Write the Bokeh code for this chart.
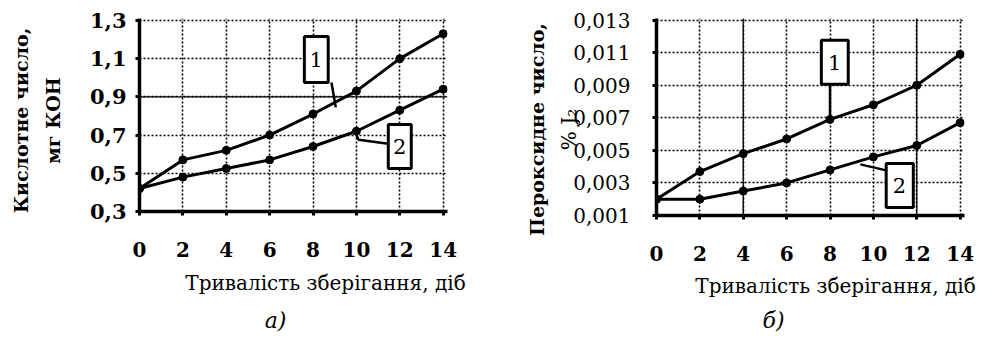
import math
from bokeh.plotting import figure
from bokeh.layouts import row
from bokeh.models import (Range1d, FixedTicker, Label, Span, BoxAnnotation,
                          CustomJSTickFormatter)
from bokeh.embed import file_html
from bokeh.resources import INLINE

# ---------------- data ----------------
days = [0, 2, 4, 6, 8, 10, 12, 14]
acid_1 = [0.42, 0.57, 0.62, 0.70, 0.81, 0.93, 1.10, 1.23]
acid_2 = [0.42, 0.48, 0.525, 0.57, 0.64, 0.72, 0.83, 0.94]
perox_1 = [0.0020, 0.0037, 0.0048, 0.0057, 0.0069, 0.0078, 0.0090, 0.0109]
perox_2 = [0.0020, 0.0020, 0.0025, 0.0030, 0.0038, 0.0046, 0.0053, 0.0067]
acid_ticks = [0.3, 0.5, 0.7, 0.9, 1.1, 1.3]
perox_ticks = [0.001, 0.003, 0.005, 0.007, 0.009, 0.011, 0.013]
x_title = "Тривалість зберігання, діб"
acid_title = ["Кислотне число,", "мг КОН"]
perox_title = ["Пероксидне число,", "% J₂"]
captions = ["а)", "б)"]

FONT = "DejaVu Serif"
R = math.pi / 2

# callouts (data coords): box (left, right, bottom, top), label pos, leader xs, ys
acid_callouts = [
    ("1", (7.6, 8.7, 0.975, 1.216), (8.15, 1.095), [8.85, 9.05], [0.975, 0.845]),
    ("2", (11.47, 12.53, 0.525, 0.755), (12.0, 0.64), [10.0, 10.1, 11.47], [0.70, 0.675, 0.655]),
]
perox_callouts = [
    ("1", (7.6, 8.84, 0.00906, 0.01177), (8.22, 0.01041), [8.0, 8.0], [0.0069, 0.00906]),
    ("2", (10.59, 11.84, 0.00149, 0.0042), (11.2, 0.00285), [9.4, 10.59], [0.00414, 0.00377]),
]

# text placement: (text, page x, page y, angle, size, style, side panel)
acid_texts = [
    (acid_title[1], 52, 120, R, "19px", "bold", "left"),
    (acid_title[0], 20, 120, R, "19px", "bold", "left"),
    (x_title, 325, 282, 0, "20px", "normal", "below"),
    (captions[0], 275, 320, 0, "22px", "italic", "below"),
]
perox_texts = [
    (perox_title[1], 568, 127, R, "20px", "normal", "left"),
    (perox_title[0], 536, 127, R, "19px", "bold", "left"),
    (x_title, 835, 283, 0, "20px", "normal", "below"),
    (captions[1], 773, 318, 0, "22px", "italic", "below"),
]

X0, X1 = 0, 14.2


def make(page_left, bl, br, frame_w, frame_h, bt, bb, yr, yticks, ylabels, ybold, ysize,
         ystandoff, s1, s2, solid_h, solid_v, callouts, texts):
    p = figure(frame_width=frame_w, frame_height=frame_h,
               min_border_left=bl, min_border_right=br, min_border_top=bt, min_border_bottom=bb,
               x_range=Range1d(X0, X1), y_range=Range1d(*yr),
               output_backend="svg", toolbar_location=None, tools="")
    p.outline_line_color = None
    p.background_fill_color = "white"
    p.border_fill_color = "white"

    p.xaxis.ticker = FixedTicker(ticks=days)
    p.yaxis.ticker = FixedTicker(ticks=yticks)
    p.yaxis.formatter = CustomJSTickFormatter(
        args=dict(labs=ylabels, tvals=yticks),
        code="""
        for (let i = 0; i < tvals.length; i++) {
            if (Math.abs(tvals[i] - tick) < 1e-9) return labs[i];
        }
        return '';
        """)
    for ax in (p.xaxis[0], p.yaxis[0]):
        ax.axis_line_width = 3.5
        ax.axis_line_color = "black"
        ax.major_tick_line_width = 3
        ax.major_tick_line_color = "black"
        ax.major_tick_out = 4
        ax.major_tick_in = 0
        ax.minor_tick_line_color = None
        ax.major_label_text_font = FONT
        ax.major_label_text_color = "black"
    p.xaxis.major_label_text_font_size = "20px"
    p.xaxis.major_label_standoff = 26
    p.xaxis.major_label_text_font_style = "bold"
    p.yaxis.major_label_text_font_size = ysize
    p.yaxis.major_label_standoff = ystandoff
    p.yaxis.major_label_text_font_style = "bold" if ybold else "normal"

    p.xgrid.ticker = FixedTicker(ticks=days[1:])
    p.ygrid.ticker = FixedTicker(ticks=yticks[1:])
    for g in (p.xgrid[0], p.ygrid[0]):
        g.grid_line_color = "black"
        g.grid_line_width = 1.6
        g.grid_line_dash = "2 2"
    for v in solid_h:
        p.add_layout(Span(location=v, dimension="width", line_color="black", line_width=1.3,
                          level="underlay"))
    for v in solid_v:
        p.add_layout(Span(location=v, dimension="height", line_color="black", line_width=1.3,
                          level="underlay"))

    for s in (s1, s2):
        p.line(days, s, line_color="black", line_width=3)
        p.scatter(days, s, size=8, marker="circle", color="black")

    for txt, (l, r, b, t), (tx, ty), lx, ly in callouts:
        p.line(lx, ly, line_color="black", line_width=2.5)
        p.add_layout(BoxAnnotation(left=l, right=r, bottom=b, top=t, fill_color="white",
                                   fill_alpha=1, line_color="black", line_alpha=1,
                                   line_width=3, level="overlay"))
        p.add_layout(Label(x=tx, y=ty, text=txt, text_font=FONT, text_font_size="21px",
                           text_color="black", text_align="center",
                           text_baseline="middle", level="overlay"))

    # page pixel -> data coordinates of this figure
    fl = page_left + bl
    fb = bt + frame_h
    xppu = frame_w / (X1 - X0)
    yppu = frame_h / (yr[1] - yr[0])
    for txt, px, py, ang, size, style, side in texts:
        dx = X0 + (px - fl) / xppu
        dy = yr[0] + (fb - py) / yppu
        p.add_layout(Label(x=dx, y=dy, text=txt, angle=ang, text_font=FONT,
                           text_font_size=size, text_font_style=style, text_color="black",
                           text_align="center", text_baseline="middle"), side)
    return p


acid_labels = [f"{v:.1f}".replace(".", ",") for v in acid_ticks]
p1 = make(0, 139, 43, 308, 193, 18, 124, (0.3, 1.31), acid_ticks, acid_labels, True, "21px", 9,
          acid_1, acid_2, [0.9], [], acid_callouts, acid_texts)

perox_labels = [f"{v:.3f}".replace(".", ",") for v in perox_ticks]
p2 = make(490, 166, 14, 308, 197, 16, 122, (0.001, 0.0131), perox_ticks, perox_labels, False,
          "20px", 22, perox_1, perox_2, [], [4, 12], perox_callouts, perox_texts)

layout = row(p1, p2, spacing=0)
open("out.html", "w").write(file_html(layout, INLINE))
